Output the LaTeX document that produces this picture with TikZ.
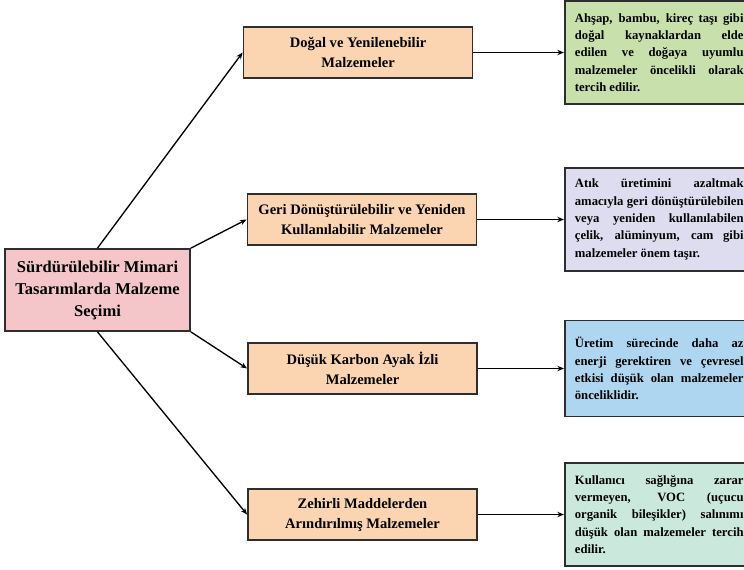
\documentclass[tikz,border=0pt]{standalone}
\usepackage{fontspec}
\setmainfont{Liberation Serif}
\usetikzlibrary{positioning,arrows.meta}
\definecolor{rootpink}{HTML}{F4C6C9}
\definecolor{peach}{HTML}{FBD5B1}
\definecolor{leaf}{HTML}{C8E0AB}
\definecolor{lilac}{HTML}{DEDDF0}
\definecolor{sky}{HTML}{AFD6F1}
\definecolor{mint}{HTML}{CBE8DC}
\definecolor{edge}{HTML}{2E2E2E}

\begin{document}
\begin{tikzpicture}[x=0.75pt, y=-0.75pt, >={Stealth[length=5pt,width=4pt]},
    box/.style={draw=edge, line width=1.35pt, inner sep=0pt},
    rootbox/.style={box, fill=rootpink, align=center, minimum width=138.75pt, minimum height=61.5pt,
      font=\bfseries\fontsize{12.4}{16.5}\selectfont},
    matbox/.style={box, fill=peach, align=center, minimum width=171.75pt, minimum height=38.25pt,
      font=\bfseries\fontsize{10.9}{15}\selectfont},
    descbox/.style={box, anchor=west, align=justify, text width=126.5pt, inner xsep=7.5pt,
      minimum height=77.25pt, font=\bfseries\fontsize{9.5}{13}\selectfont},
    link/.style={->, line width=1pt, black}]
    \useasboundingbox (0,0) rectangle (744,569);
    \clip (0,0) rectangle (744,569);
    % main topic
    \node[rootbox] (root) at (97.5,290) {Sürdürülebilir Mimari\\ Tasarımlarda Malzeme\\ Seçimi};
    % material groups
    \node[matbox] (mat1) at (358,52.5) {Doğal ve Yenilenebilir\\ Malzemeler};
    \node[matbox] (mat2) at (362,219.5) {Geri Dönüştürülebilir ve Yeniden\\ Kullanılabilir Malzemeler};
    \node[matbox] (mat3) at (362.5,368.5) {Düşük Karbon Ayak İzli\\ Malzemeler};
    \node[matbox] (mat4) at (362.5,514.5) {Zehirli Maddelerden\\ Arındırılmış Malzemeler};
    % explanations
    \node[descbox, fill=leaf] (desc1) at (564,52.5)
      {Ahşap, bambu, kireç taşı gibi\linebreak doğal kaynaklardan elde\linebreak edilen ve doğaya uyumlu\linebreak malzemeler öncelikli olarak\linebreak tercih edilir.};
    \node[descbox, fill=lilac] (desc2) at (564,219.5)
      {Atık üretimini azaltmak\linebreak amacıyla geri dönüştürülebilen\linebreak veya yeniden kullanılabilen\linebreak çelik, alüminyum, cam gibi\linebreak malzemeler önem taşır.};
    \node[descbox, fill=sky, minimum height=72pt] (desc3) at (564,368.5)
      {Üretim sürecinde daha az\linebreak enerji gerektiren ve çevresel\linebreak etkisi düşük olan malzemeler\linebreak önceliklidir.};
    \node[descbox, fill=mint] (desc4) at (564,514.5)
      {Kullanıcı sağlığına zarar\linebreak vermeyen, VOC (uçucu\linebreak organik bileşikler) salınımı\linebreak düşük olan malzemeler tercih\linebreak edilir.};
    % connectors
    \draw[link] (root.north) -- (mat1.west);
    \draw[link] (root.north east) -- (mat2.west);
    \draw[link] (root.south east) -- (mat3.west);
    \draw[link] (root.south) -- (mat4.west);
    \foreach \i in {1,...,4} \draw[link] (mat\i.east) -- (desc\i.west);
\end{tikzpicture}
\end{document}
